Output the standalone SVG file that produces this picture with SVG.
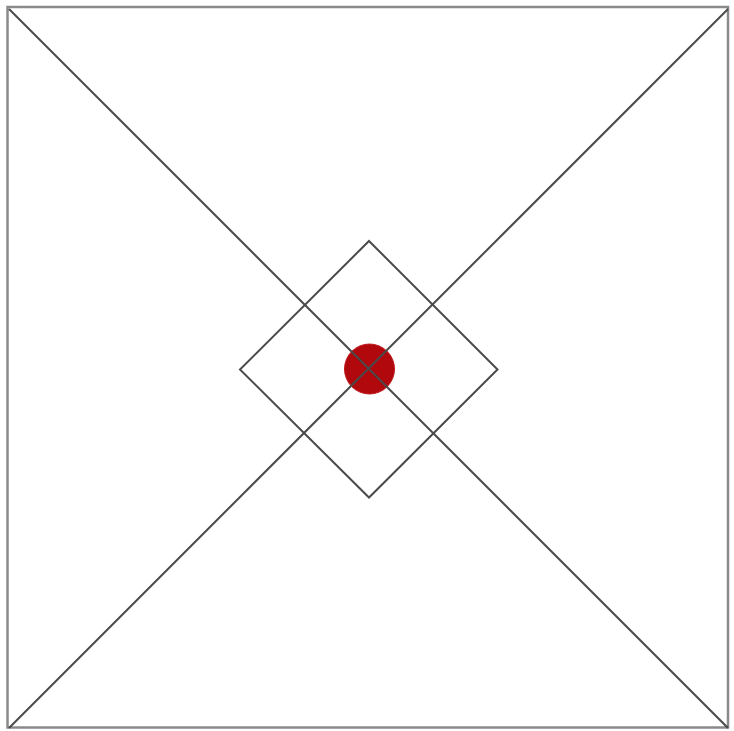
<svg xmlns="http://www.w3.org/2000/svg" width="734" height="731" viewBox="0 0 734 731">
<style>
.frame{fill:#fff;stroke:#8a8a8a;stroke-width:2.5}
.ln{fill:none;stroke:#4a4a4a;stroke-width:2}
.dot{fill:#b0080c;stroke:#c0181c;stroke-width:1}
</style>
<rect width="734" height="731" fill="#fff"/>
<g id="frame"><rect class="frame" x="7.5" y="7" width="720.5" height="720.5"/></g>
<g id="center"><circle class="dot" cx="369.5" cy="369" r="25"/></g>
<g id="diamond"><polygon class="ln" points="369,241 497.5,369.5 369,497.5 240,369.5"/></g>
<g id="connectors">
<line class="ln" x1="9" y1="9" x2="728" y2="728"/>
<line class="ln" x1="728" y1="9" x2="9" y2="728"/>
</g>
</svg>
